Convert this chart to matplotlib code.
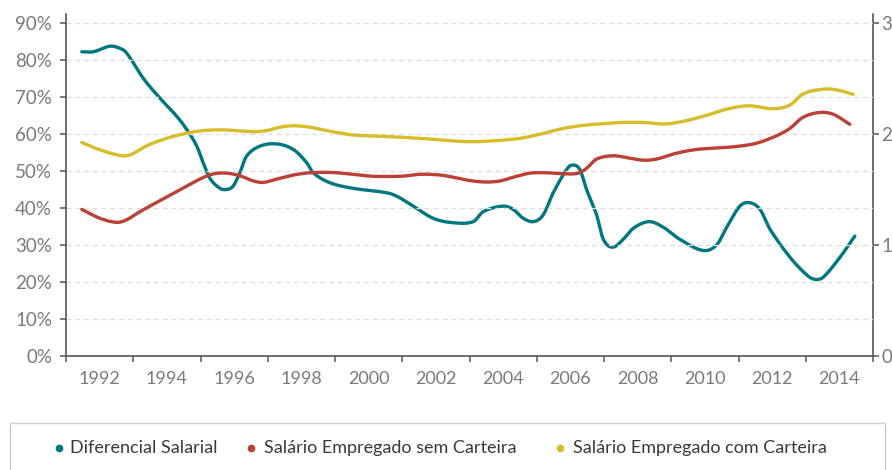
#!/usr/bin/env python
# -*- coding: utf-8 -*-
"""
Diferencial salarial e salarios de empregados com e sem carteira.
"""

import numpy as np
import matplotlib
matplotlib.use("Agg")
import matplotlib.pyplot as plt
from matplotlib.lines import Line2D
from matplotlib.patches import Rectangle

# -- data (fractional years) -------------------------------------------------
dif_years = [1991.47, 1991.81, 1992.31, 1992.61, 1992.80, 1993.30, 1993.80,
             1994.29, 1994.59, 1994.89, 1995.08, 1995.28, 1995.58, 1995.78,
             1995.97, 1996.17, 1996.37, 1996.77, 1997.27, 1997.76, 1998.16,
             1998.35, 1998.85, 1999.54, 2000.54, 2000.83, 2001.33, 2001.92,
             2002.52, 2003.11, 2003.41, 2004.00, 2004.30, 2004.60, 2004.90,
             2005.19, 2005.49, 2005.89, 2006.05, 2006.28, 2006.48, 2006.78,
             2006.98, 2007.26, 2007.57, 2007.87, 2008.34, 2008.76, 2009.26,
             2009.95, 2010.35, 2010.65, 2011.04, 2011.34, 2011.64, 2011.94,
             2012.53, 2013.03, 2013.27, 2013.52, 2014.02, 2014.46]
dif_values = [2.74, 2.74, 2.79, 2.77, 2.73, 2.50, 2.32,
              2.16, 2.04, 1.89, 1.74, 1.60, 1.51, 1.50,
              1.53, 1.65, 1.80, 1.89, 1.91, 1.86, 1.74,
              1.65, 1.56, 1.51, 1.47, 1.44, 1.35, 1.24,
              1.20, 1.21, 1.30, 1.35, 1.32, 1.24, 1.21,
              1.27, 1.47, 1.68, 1.72, 1.68, 1.50, 1.27,
              1.05, 0.98, 1.05, 1.15, 1.21, 1.16, 1.05,
              0.95, 1.00, 1.16, 1.35, 1.38, 1.32, 1.14,
              0.89, 0.73, 0.69, 0.71, 0.89, 1.08]

sem_years = [1991.47, 1992.01, 1992.51, 1992.80, 1993.20, 1993.80, 1994.39,
             1994.98, 1995.38, 1995.78, 1996.17, 1996.57, 1996.87, 1997.27,
             1997.76, 1998.26, 1998.85, 1999.54, 2000.04, 2000.54, 2001.03,
             2001.53, 2002.12, 2002.52, 2003.01, 2003.51, 2003.91, 2004.30,
             2004.80, 2005.29, 2005.89, 2006.23, 2006.48, 2006.78, 2007.27,
             2007.67, 2008.17, 2008.56, 2009.16, 2009.75, 2010.35, 2010.94,
             2011.54, 2012.13, 2012.53, 2012.92, 2013.42, 2013.82, 2014.31]
sem_values = [39.6, 37.2, 36.1, 36.8, 39.0, 42.0, 44.9,
              47.8, 49.2, 49.4, 48.7, 47.3, 46.9, 47.8,
              48.9, 49.5, 49.6, 49.1, 48.6, 48.5, 48.6,
              49.1, 48.9, 48.3, 47.4, 47.0, 47.3, 48.3,
              49.4, 49.5, 49.2, 49.4, 50.7, 53.2, 54.1,
              53.6, 52.9, 53.2, 54.8, 55.8, 56.2, 56.6,
              57.5, 59.5, 61.5, 64.5, 65.8, 65.3, 62.6]

com_years = [1991.47, 1992.01, 1992.66, 1992.95, 1993.40, 1993.99, 1994.59,
             1995.08, 1995.58, 1996.08, 1996.57, 1996.97, 1997.36, 1997.76,
             1998.26, 1998.75, 1999.05, 1999.54, 2000.54, 2001.53, 2002.52,
             2003.11, 2003.81, 2004.50, 2005.09, 2005.69, 2006.28, 2006.86,
             2007.57, 2008.17, 2008.86, 2009.55, 2010.15, 2010.74, 2011.34,
             2012.03, 2012.53, 2012.92, 2013.52, 2013.92, 2014.41]
com_values = [57.7, 55.7, 54.1, 54.5, 56.8, 58.8, 60.2,
              60.9, 61.1, 60.9, 60.6, 60.9, 61.8, 62.2,
              61.8, 60.9, 60.4, 59.7, 59.3, 58.8, 58.1,
              57.9, 58.2, 58.8, 59.9, 61.3, 62.2, 62.7,
              63.1, 63.1, 62.7, 63.8, 65.3, 66.9, 67.6,
              66.8, 67.8, 70.8, 72.1, 71.9, 70.7]

year_labels = ["1992", "1994", "1996", "1998", "2000", "2002",
               "2004", "2006", "2008", "2010", "2012", "2014"]
pct_ticks = [0, 10, 20, 30, 40, 50, 60, 70, 80, 90]
ratio_ticks = [0, 1, 2, 3]

names = ["Diferencial Salarial", "Salário Empregado sem Carteira",
         "Salário Empregado com Carteira"]
colors = ["#00767f", "#bb4035", "#d6bd2a"]

W, H = 892, 470
FONT = "Lato"


def smooth(x, y, n=14):
    """Cubic Hermite curve through the points, for a spline-like line."""
    x = np.asarray(x, float)
    y = np.asarray(y, float)
    m = np.empty_like(y)
    m[1:-1] = (y[2:] - y[:-2]) / (x[2:] - x[:-2])
    m[0] = (y[1] - y[0]) / (x[1] - x[0])
    m[-1] = (y[-1] - y[-2]) / (x[-1] - x[-2])
    t = np.linspace(0, 1, n, endpoint=False)
    h00 = 2 * t**3 - 3 * t**2 + 1
    h10 = t**3 - 2 * t**2 + t
    h01 = -2 * t**3 + 3 * t**2
    h11 = t**3 - t**2
    xs, ys = [], []
    for i in range(len(x) - 1):
        h = x[i + 1] - x[i]
        xs.append(x[i] + t * h)
        ys.append(h00 * y[i] + h10 * h * m[i] + h01 * y[i + 1] + h11 * h * m[i + 1])
    xs.append([x[-1]])
    ys.append([y[-1]])
    return np.concatenate(xs), np.concatenate(ys)


def fx(px):
    return px / W


def fy(py):
    return 1 - py / H


def make_plot():
    fig = plt.figure(figsize=(W / 100, H / 100), dpi=100)
    ax = fig.add_axes([fx(66), fy(356), fx(873) - fx(66), fy(14) - fy(356)])
    ax2 = ax.twinx()

    axis_col = "#555555"
    lab_col = "#7a7a7a"

    # left axis (percent)
    ax.set_ylim(0, 92.4)
    ax.set_yticks(pct_ticks)
    ax.set_yticklabels(["%d%%" % v for v in pct_ticks])
    for v in pct_ticks[1:]:
        ax.axhline(v, color="#dedede", lw=0.9, ls=(0, (4, 3)), zorder=0)

    # x axis: ticks at odd years, labels between them
    ax.set_xlim(1991, 2015)
    ax.set_xticks(np.arange(1991, 2016, 2))
    ax.set_xticklabels([])
    ax.set_xticks(np.arange(1992, 2015, 2), minor=True)
    ax.set_xticklabels(year_labels, minor=True)

    ax.tick_params(axis="x", which="major", direction="out", length=4,
                   width=1.1, color=axis_col)
    ax.tick_params(axis="x", which="minor", length=0, pad=11,
                   labelsize=13, labelcolor=lab_col)
    ax.tick_params(axis="y", direction="out", length=4, width=1.1,
                   color=axis_col, pad=6, labelsize=13.5, labelcolor=lab_col)

    # right axis (ratio)
    ax2.set_ylim(0, 3.08)
    ax2.set_yticks(ratio_ticks)
    ax2.set_yticklabels([str(v) for v in ratio_ticks])
    ax2.tick_params(axis="y", direction="out", length=4, width=1.1,
                    color=axis_col, pad=2, labelsize=13.5, labelcolor=lab_col)

    for a in (ax, ax2):
        a.spines["top"].set_visible(False)
        for s in ("left", "right", "bottom"):
            a.spines[s].set_color(axis_col)
            a.spines[s].set_linewidth(1.2)
    ax.spines["right"].set_visible(False)
    ax2.spines["left"].set_visible(False)
    ax2.spines["bottom"].set_visible(False)

    for lab in ax.get_xticklabels(minor=True) + ax.get_yticklabels() + ax2.get_yticklabels():
        lab.set_fontfamily(FONT)

    # series
    xs, ys = smooth(dif_years, dif_values)
    ax2.plot(xs, ys, color=colors[0], lw=2.4, solid_capstyle="round", zorder=3)
    xs, ys = smooth(sem_years, sem_values)
    ax.plot(xs, ys, color=colors[1], lw=2.4, solid_capstyle="round", zorder=3)
    xs, ys = smooth(com_years, com_values)
    ax.plot(xs, ys, color=colors[2], lw=2.4, solid_capstyle="round", zorder=3)
    ax.set_zorder(ax2.get_zorder() + 1)
    ax.patch.set_visible(False)

    # legend box
    box = Rectangle((fx(10), fy(480)), fx(885) - fx(10), fy(423) - fy(480),
                    transform=fig.transFigure, fill=False,
                    edgecolor="#cccccc", lw=1.0)
    fig.add_artist(box)
    dots = [59, 251, 560]
    texts = [70, 264, 573]
    for name, col, dx, tx in zip(names, colors, dots, texts):
        fig.add_artist(Line2D([fx(dx)], [fy(448)], marker="o", markersize=4.5,
                              color=col, transform=fig.transFigure))
        fig.text(fx(tx), fy(448), name, fontsize=13, color="#3a3a3a",
                 family=FONT, va="center", ha="left")

    fig.savefig("out.png", dpi=100)


def main():
    make_plot()


if __name__ == "__main__":
    main()
